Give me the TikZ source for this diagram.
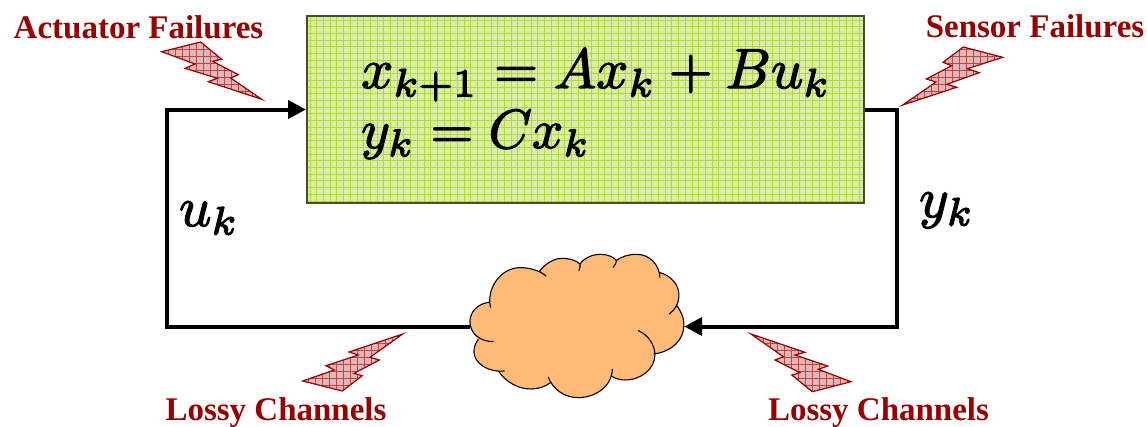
\documentclass[tikz,border=0pt]{standalone}
\usepackage{fontspec}
\setmainfont{Liberation Serif}
\usetikzlibrary{arrows.meta}
\definecolor{dred}{HTML}{990000}
\definecolor{boltfill}{HTML}{E2B6B6}
\definecolor{boltgrid}{HTML}{B84848}
\definecolor{boxfill}{HTML}{DAEDA4}
\definecolor{boxgrid}{HTML}{B2D93C}
\definecolor{boxedge}{HTML}{4A4A33}
\definecolor{cloudfill}{HTML}{FFBB77}
\tikzset{
  lab/.style={font=\bfseries\fontsize{33}{38}\selectfont, text=dred, inner sep=0pt, anchor=base},
  eqn/.style={scale=5.65, inner sep=0pt, anchor=base west},
  wire/.style={line width=4pt, line join=miter},
  wirearrow/.style={wire, -{Triangle[length=18pt,width=18pt]}},
  boltedge/.style={draw=dred, line width=1.2pt, line join=miter},
  plantbox/.style={draw=boxedge, line width=2pt, minimum width=557pt, minimum height=187pt, inner sep=0pt},
  cloudbox/.style={minimum width=214pt, minimum height=144pt, inner sep=0pt},
  cloudedge/.style={draw=black, line width=1.1pt, line cap=round}
}
\newcommand{\bolt}[1]{%
  \begin{scope}
    \clip #1 -- cycle;
    \fill[boltfill] (0,0) rectangle (1147,426);
    \foreach \gx in {0,7,...,1147} \draw[boltgrid,line width=.6pt] (\gx,0) -- (\gx,426);
    \foreach \gy in {0,7,...,426} \draw[boltgrid,line width=.6pt] (0,\gy) -- (1147,\gy);
  \end{scope}
  \draw[boltedge] #1 -- cycle;}
\newcommand{\heavy}[1]{\special{pdf:code 2 Tr 0.22 w}$#1$\special{pdf:code 0 Tr}}
\newcommand{\cloudarcs}{%
 (122,202) .. controls (108,150) and (150,83) .. (210,83) .. controls (240,83) and (270,92) .. (288,108)
 (268,95) .. controls (285,70) and (315,55) .. (335,55) .. controls (360,55) and (380,62) .. (390,72) .. controls (392,78) and (390,85) .. (387,92)
 (390,72) .. controls (405,52) and (430,43) .. (450,43) .. controls (475,43) and (492,52) .. (500,62) .. controls (498,70) and (495,76) .. (490,82)
 (498,62) .. controls (515,50) and (535,43) .. (560,43) .. controls (600,43) and (628,75) .. (630,112)
 (628,97) .. controls (665,108) and (687,135) .. (687,165) .. controls (687,190) and (675,210) .. (658,222)
 (680,197) .. controls (695,215) and (702,235) .. (702,255) .. controls (702,300) and (665,335) .. (612,342)
 (565,272) .. controls (595,285) and (615,315) .. (615,345) .. controls (615,385) and (575,420) .. (525,420) .. controls (510,420) and (497,416) .. (487,410)
 (487,388) .. controls (487,435) and (440,473) .. (385,473) .. controls (345,473) and (310,450) .. (295,412)
 (302,428) .. controls (285,440) and (265,447) .. (243,447) .. controls (205,447) and (170,428) .. (145,393)
 (163,393) .. controls (115,398) and (72,370) .. (72,335) .. controls (72,322) and (76,310) .. (85,298)
 (130,305) .. controls (90,305) and (60,280) .. (60,245) .. controls (60,215) and (85,190) .. (118,187)}
\begin{document}
\begin{tikzpicture}[x=1pt,y=-1pt]
\useasboundingbox (0,0) rectangle (1147,426);
\fill[white] (0,0) rectangle (1147,426);
% plant
\node[plantbox, fill=boxfill] (plant) at (585.5,109.5) {};
\begin{scope}
  \clip (308,17) rectangle (863,202);
  \foreach \gx in {310,316.7,...,864} \draw[boxgrid,line width=.7pt] (\gx,16) -- (\gx,203);
  \foreach \gy in {20,26.7,...,203} \draw[boxgrid,line width=.7pt] (307,\gy) -- (864,\gy);
\end{scope}
\node[plantbox] at (plant.center) {};
% cloud anchor
\node[cloudbox] (cloud) at (577,326.5) {};
\coordinate (ll) at (167,326.5);
\coordinate (ul) at (167,109.5);
\coordinate (ur) at (897,109.5);
\coordinate (lr) at (897,326.5);
\draw[wirearrow] (cloud.west) -- (ll) -- (ul) -- (plant.west);
\draw[wirearrow] (plant.east) -- (ur) -- (lr) -- (cloud.east);
% cloud (coordinates in zoom units)
\begin{scope}[x=0.3333pt,y=-0.3333pt,shift={(1350,720)}]
\fill[cloudfill] (120,190) -- (270,95) -- (390,72) -- (500,62) -- (628,97) -- (680,197) -- (612,342) -- (525,420) -- (487,410) -- (385,470) -- (302,428) -- (243,445) -- (145,393) -- (110,380) -- (85,298) -- (62,245) -- cycle;
\fill[cloudfill] \cloudarcs;
\draw[cloudedge] \cloudarcs;
\end{scope}
% bolts
\bolt{(161.7,51.7) -- (200.7,42) -- (221.7,59.3) -- (212.7,61.3) -- (238.3,74.7) -- (230.7,78) -- (261.7,99.3) -- (208.3,81.7) -- (217.3,78.3) -- (185,68.3) -- (195,64) -- (161.7,51.7)}
\bolt{(1002.7,57.3) -- (963.3,47) -- (943,62.3) -- (951.7,65.7) -- (926.3,79) -- (936,82) -- (902.7,105) -- (956.7,87.3) -- (946.7,84.3) -- (979.3,72.7) -- (967.3,68.7) -- (1002.7,57.3)}
\bolt{(402.7,334) -- (349,352) -- (358.3,355) -- (326,365.7) -- (334.3,370) -- (302.7,381) -- (342.3,391) -- (362.3,375.7) -- (354,373.3) -- (379.3,360) -- (370,357.3) -- (402.7,334)}
\bolt{(751,334) -- (805,352.3) -- (795,355) -- (827.7,366) -- (818.3,369.3) -- (851,381.7) -- (812.3,391.7) -- (791.7,375) -- (800,372.7) -- (775,360) -- (783.3,356.7) -- (751,334)}
% equations
\node[eqn] (eqa) at (360,88) {\heavy{x_{k+1}=Ax_k+Bu_k}};
\node[eqn,scale=0.975] (eqb) at (360,148) {\heavy{y_k=Cx_k}};
\node[eqn] (uk) at (178,226) {\heavy{u_k}};
\node[eqn] (yk) at (918,217) {\heavy{y_k}};
% labels
\node[lab] (act) at (138.5,38) {Actuator Failures};
\node[lab] (sen) at (1035,37.5) {Sensor Failures};
\node[lab] (los1) at (276,420) {Lossy Channels};
\node[lab] (los2) at (878.5,420) {Lossy Channels};
\end{tikzpicture}
\end{document}
